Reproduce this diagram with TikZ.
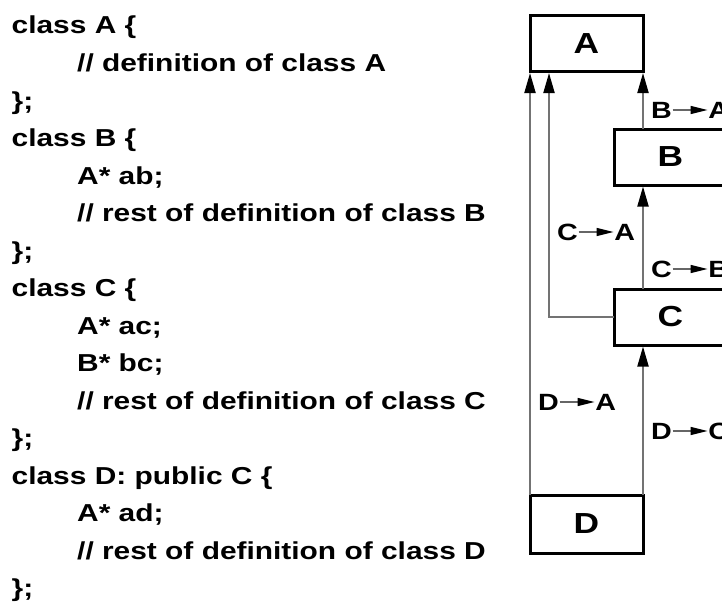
\documentclass[tikz,border=0pt]{standalone}
\usepackage{fontspec}
\setmainfont{Liberation Sans}[FakeStretch=1.22]
\usetikzlibrary{arrows.meta}

% small "X -> Y" relation arrow used inside the edge labels
\newcommand\relto{\tikz[baseline=0pt]\draw[draw=black!60, line width=1.4pt,
  -{Triangle[length=17pt,width=8pt,color=black]}] (0pt,8pt) -- (35pt,8pt);}

\tikzset{
  code/.style={anchor=base west, inner sep=0pt, font=\bfseries\fontsize{24.5}{30}\selectfont},
  cls/.style={draw=black, line width=3pt, outer sep=0pt, inner sep=0pt,
    font=\bfseries\fontsize{29}{32}\selectfont, minimum width=113pt},
  rel/.style={anchor=base west, inner sep=0pt, font=\bfseries\fontsize{23.5}{26}\selectfont},
  conn/.style={draw=black!55, line width=2pt, shorten >=1.5pt,
    -{Triangle[length=20pt,width=11pt,color=black]}},
}

\begin{document}
\begin{tikzpicture}[x=1pt,y=-1pt]
\useasboundingbox (0,0) rectangle (722,602);
\clip (0,0) rectangle (722,602);

% source code listing
\node[code] (l0)  at (11.5, 34.0) {class A \{};
\node[code] (l1)  at (77,  71.5) {// definition of class A};
\node[code] (l2)  at (11.5,109.0) {\};};
\node[code] (l3)  at (11.5,146.5) {class B \{};
\node[code] (l4)  at (77, 184.0) {A* ab;};
\node[code] (l5)  at (77, 221.5) {// rest of definition of class B};
\node[code] (l6)  at (11.5,259.0) {\};};
\node[code] (l7)  at (11.5,296.5) {class C \{};
\node[code] (l8)  at (77, 334.0) {A* ac;};
\node[code] (l9)  at (77, 371.5) {B* bc;};
\node[code] (l10) at (77, 409.0) {// rest of definition of class C};
\node[code] (l11) at (11.5,446.5) {\};};
\node[code] (l12) at (11.5,484.0) {class D: public C \{};
\node[code] (l13) at (77, 521.5) {A* ad;};
\node[code] (l14) at (77, 559.0) {// rest of definition of class D};
\node[code] (l15) at (11.5,596.5) {\};};

% class boxes
\node[cls, minimum height=56pt] (A) at (586.5, 43.5) {A};
\node[cls, minimum height=56pt] (B) at (670.5,157.0) {B};
\node[cls, minimum height=56pt] (C) at (670.5,317.0) {C};
\node[cls, minimum height=58pt] (D) at (586.5,524.0) {D};

% pointer dependencies
\draw[conn] (D.north west) -- (A.south west);
\draw[conn] (C.west) -| ([xshift=19pt]A.south west);
\draw[conn] (A.south east |- B.north) -- (A.south east);
\draw[conn] (A.south east |- C.north) -- (A.south east |- B.south);
\draw[conn] (D.north east) -- (D.north east |- C.south);

% relation labels
\node[rel] (ba) at (651,118) {B\relto A};
\node[rel] (ca) at (557,240) {C\relto A};
\node[rel] (cb) at (651,277) {C\relto B};
\node[rel] (da) at (538,410) {D\relto A};
\node[rel] (dc) at (651,439) {D\relto C};
\end{tikzpicture}
\end{document}
